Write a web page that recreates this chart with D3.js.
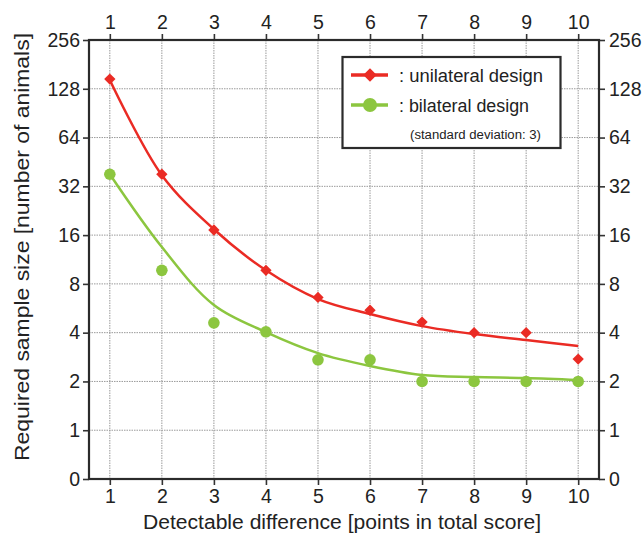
<!DOCTYPE html>
<html>
<head>
<meta charset="utf-8">
<script src="https://cdn.jsdelivr.net/npm/d3@7/dist/d3.min.js"></script>
<style>
  html, body { margin: 0; padding: 0; background: #fff; }
  text { font-family: "Liberation Sans", Arial, sans-serif; fill: #222; }
</style>
</head>
<body>
<svg id="chart" width="644" height="533"></svg>
<script>
// ---- data ----
const xValues = [1, 2, 3, 4, 5, 6, 7, 8, 9, 10];
const unilateralPoints = [147, 38, 17.2, 9.7, 6.6, 5.5, 4.65, 4.0, 4.0, 2.75];
const bilateralPoints  = [38, 9.7, 4.6, 4.05, 2.72, 2.72, 2.0, 2.0, 2.0, 2.0];
const unilateralCurve  = [145, 37.5, 17.4, 9.7, 6.45, 5.21, 4.39, 3.92, 3.6, 3.31];
const bilateralCurve   = [38, 13.5, 5.92, 4.03, 2.99, 2.49, 2.19, 2.13, 2.1, 2.04];
const yTickValues = [0.5, 1, 2, 4, 8, 16, 32, 64, 128, 256];
const yTickLabels = ["0", "1", "2", "4", "8", "16", "32", "64", "128", "256"];
const legendLabels = [": unilateral design", ": bilateral design"];
const legendNote = "(standard deviation: 3)";
const xTitle = "Detectable difference [points in total score]";
const yTitle = "Required sample size [number of animals]";

const RED = "#ea2b24";
const GREEN = "#8cc63f";

const svg = d3.select("#chart");
const L = 89, R = 599, T = 40, B = 479;

const x = d3.scaleLinear().domain([0.6, 10.4]).range([L, R]);
const y = d3.scaleLog().base(2).domain([0.5, 256]).range([B, T]);

// grid
const grid = svg.append("g");
grid.selectAll("line.gx").data(xValues).join("line")
  .attr("x1", d => x(d)).attr("x2", d => x(d)).attr("y1", T).attr("y2", B)
  .attr("stroke", "#9a9a9a").attr("stroke-width", 1).attr("stroke-dasharray", "1.5,1");
grid.selectAll("line.gy").data(yTickValues.slice(1, -1)).join("line")
  .attr("y1", d => y(d)).attr("y2", d => y(d)).attr("x1", L).attr("x2", R)
  .attr("stroke", "#9a9a9a").attr("stroke-width", 1).attr("stroke-dasharray", "1.5,1");

// axes
const fmtY = d => yTickLabels[yTickValues.indexOf(d)];
const axB = d3.axisBottom(x).tickValues(xValues).tickSize(6).tickPadding(4).tickFormat(d3.format("d"));
const axT = d3.axisTop(x).tickValues(xValues).tickSize(6).tickPadding(5).tickFormat(d3.format("d"));
const axL = d3.axisLeft(y).tickValues(yTickValues).tickSize(6).tickPadding(3).tickFormat(fmtY);
const axR = d3.axisRight(y).tickValues(yTickValues).tickSize(6).tickPadding(4).tickFormat(fmtY);

function styleAxis(g) {
  g.select(".domain").remove();
  g.selectAll(".tick line").attr("stroke", "#333").attr("stroke-width", 1.6);
  g.selectAll(".tick text").attr("font-size", 19.5).attr("fill", "#222")
    .attr("font-family", "'Liberation Sans', Arial, sans-serif");
}
svg.append("g").attr("transform", `translate(0,${B})`).call(axB).call(styleAxis);
svg.append("g").attr("transform", `translate(0,${T})`).call(axT).call(styleAxis);
svg.append("g").attr("transform", `translate(${L},0)`).call(axL).call(styleAxis);
svg.append("g").attr("transform", `translate(${R},0)`).call(axR).call(styleAxis);

// frame
svg.append("rect").attr("x", L).attr("y", T).attr("width", R - L).attr("height", B - T)
  .attr("fill", "none").attr("stroke", "#2b2b2b").attr("stroke-width", 2.2);

// curves
const line = d3.line().x(d => x(d[0])).y(d => y(d[1])).curve(d3.curveCatmullRom.alpha(0.5));
svg.append("path").datum(xValues.map((v, i) => [v, unilateralCurve[i]]))
  .attr("d", line).attr("fill", "none").attr("stroke", RED).attr("stroke-width", 2.5);
svg.append("path").datum(xValues.map((v, i) => [v, bilateralCurve[i]]))
  .attr("d", line).attr("fill", "none").attr("stroke", GREEN).attr("stroke-width", 2.5);

// markers
const diamond = d3.symbol().type(d3.symbolSquare).size(64);
svg.append("g").selectAll("path").data(xValues.map((v, i) => [v, unilateralPoints[i]])).join("path")
  .attr("d", diamond())
  .attr("transform", d => `translate(${x(d[0])},${y(d[1])}) rotate(45)`)
  .attr("fill", RED);
svg.append("g").selectAll("circle").data(xValues.map((v, i) => [v, bilateralPoints[i]])).join("circle")
  .attr("cx", d => x(d[0])).attr("cy", d => y(d[1])).attr("r", 5.8)
  .attr("fill", GREEN);

// legend
const lg = svg.append("g");
lg.append("rect").attr("x", 342.5).attr("y", 57).attr("width", 218).attr("height", 91)
  .attr("fill", "#fff").attr("stroke", "#2b2b2b").attr("stroke-width", 2.2);
const legendRows = [{c: RED, y: 75, t: "d"}, {c: GREEN, y: 105, t: "c"}];
legendRows.forEach((r, i) => {
  lg.append("line").attr("x1", 351).attr("x2", 388).attr("y1", r.y).attr("y2", r.y)
    .attr("stroke", r.c).attr("stroke-width", 3.5);
  if (r.t === "d") {
    lg.append("path").attr("d", d3.symbol().type(d3.symbolSquare).size(90)())
      .attr("transform", `translate(370,${r.y}) rotate(45)`).attr("fill", r.c);
  } else {
    lg.append("circle").attr("cx", 370).attr("cy", r.y).attr("r", 7).attr("fill", r.c);
  }
  lg.append("text").attr("x", 399).attr("y", r.y + 7).attr("font-size", 18.3)
    .attr("textLength", i === 0 ? 144 : 130).attr("lengthAdjust", "spacingAndGlyphs")
    .text(legendLabels[i]);
});
lg.append("text").attr("x", 410).attr("y", 139).attr("font-size", 12.5)
  .attr("textLength", 131).attr("lengthAdjust", "spacingAndGlyphs").text(legendNote);

// titles
svg.append("text").attr("x", 342).attr("y", 529).attr("text-anchor", "middle")
  .attr("font-size", 20).attr("textLength", 398).attr("lengthAdjust", "spacingAndGlyphs")
  .text(xTitle);
svg.append("text").attr("transform", `translate(29,247) rotate(-90)`)
  .attr("text-anchor", "middle").attr("font-size", 20)
  .attr("textLength", 428).attr("lengthAdjust", "spacingAndGlyphs").text(yTitle);
</script>
</body>
</html>
